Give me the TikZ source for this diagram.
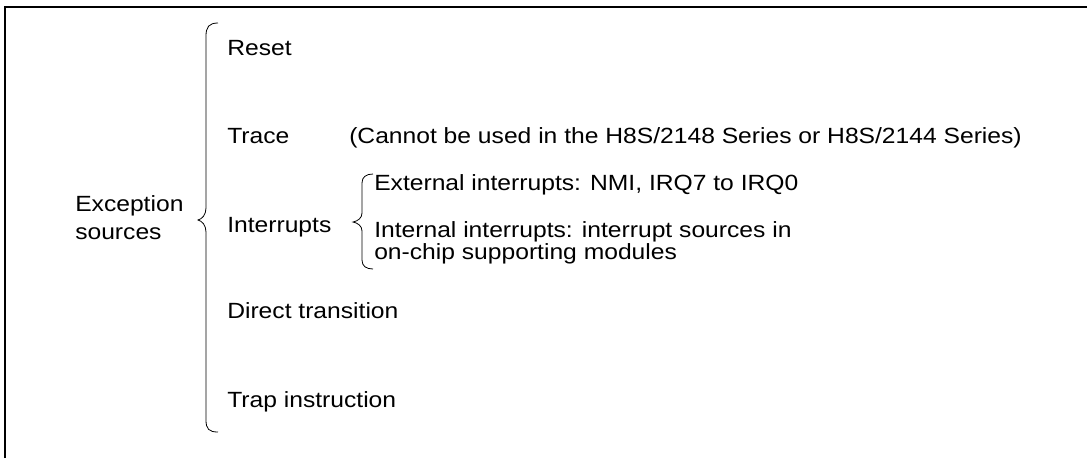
\documentclass[tikz,border=0pt]{standalone}
\usepackage{fontspec}
\setmainfont{Liberation Sans}[FakeStretch=1.12]
\usetikzlibrary{positioning}
\tikzset{
 lbl/.style={anchor=base west,inner sep=0pt,font=\fontsize{16.5}{21}\selectfont},
 brace/.style={line width=0.6pt}
}
\begin{document}
\begin{tikzpicture}[x=0.75pt,y=-0.75pt]
 \useasboundingbox (0,0) rectangle (1087,458);
 \draw[line width=1.7pt](5,458)--(5,7)--(1087,7);
 % outer brace
 \draw[brace](218,23) .. controls (209,23) and (206,27) .. (206,36)--(206,208)
   .. controls (206,215) and (202,219) .. (198,220)
   .. controls (202,221) and (206,225) .. (206,232)--(206,420)
   .. controls (206,429) and (209,432) .. (218,432);
 % inner brace
 \draw[brace](373,174) .. controls (366,174) and (362,177) .. (362,183)--(362,213)
   .. controls (362,218) and (358,221) .. (353,222)
   .. controls (358,223) and (362,226) .. (362,231)--(362,260)
   .. controls (362,266) and (366,269) .. (373,269);
 \node[lbl,anchor=west,align=left](exc) at (75,218) {Exception\\sources};
 \node[lbl](reset) at (227,55) {Reset};
 \node[lbl](trace) at (227,143) {Trace};
 \node[lbl](note) at (349,143) {(Cannot be used in the H8S/2148 Series or H8S/2144 Series)};
 \node[lbl](intr) at (227,232) {Interrupts};
 \node[lbl](ext) at (374,190) {External interrupts: NMI, IRQ7 to IRQ0};
 \node[lbl](int1) at (374,237) {Internal interrupts: interrupt sources in};
 \node[lbl](int2) at (374,259) {on-chip supporting modules};
 \node[lbl](direct) at (227,318) {Direct transition};
 \node[lbl](trap) at (227,407) {Trap instruction};
\end{tikzpicture}
\end{document}
